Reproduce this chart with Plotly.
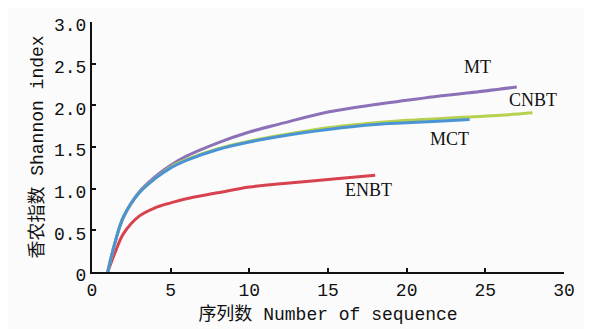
import plotly.graph_objects as go

# Data
mt_x = [1, 1.5, 2, 3, 4, 5, 6, 8, 10, 12, 15, 18, 20, 22, 24, 27]
mt_y = [0, 0.38, 0.66, 0.96, 1.14, 1.28, 1.39, 1.55, 1.68, 1.78, 1.92, 2.01, 2.06, 2.11, 2.15, 2.22]

cnbt_x = [1, 1.5, 2, 3, 4, 5, 6, 8, 10, 12, 15, 18, 20, 22, 24, 26, 28]
cnbt_y = [0, 0.38, 0.66, 0.95, 1.12, 1.26, 1.35, 1.48, 1.57, 1.64, 1.73, 1.79, 1.82, 1.84, 1.86, 1.88, 1.91]

mct_x = [1, 1.5, 2, 3, 4, 5, 6, 8, 10, 12, 15, 18, 20, 22, 24]
mct_y = [0, 0.38, 0.66, 0.95, 1.12, 1.25, 1.34, 1.47, 1.56, 1.63, 1.71, 1.77, 1.79, 1.81, 1.83]

enbt_x = [1, 1.5, 2, 3, 4, 5, 6, 8, 10, 12, 15, 18]
enbt_y = [0, 0.25, 0.46, 0.67, 0.77, 0.83, 0.88, 0.95, 1.02, 1.06, 1.11, 1.16]

series_names = ["MT", "CNBT", "MCT", "ENBT"]
label_x = [24.5, 28.05, 22.75, 17.55]
label_y = [2.46, 2.06, 1.6, 0.99]

x_ticks = [0, 5, 10, 15, 20, 25, 30]
x_ticktext = ["0", "5", "10", "15", "20", "25", "30"]
y_ticks = [0, 0.5, 1.0, 1.5, 2.0, 2.5, 3.0]
y_ticktext = ["0", "0.5", "1.0", "1.5", "2.0", "2.5", "3.0"]

colors = {"MT": "#8c71b8", "CNBT": "#b5d14e", "MCT": "#4a93d4", "ENBT": "#d8424f"}

fig = go.Figure()
for name, xs, ys in [("ENBT", enbt_x, enbt_y), ("MT", mt_x, mt_y),
                     ("CNBT", cnbt_x, cnbt_y), ("MCT", mct_x, mct_y)]:
    fig.add_trace(go.Scatter(x=xs, y=ys, mode="lines", name=name,
                             line=dict(color=colors[name], width=3, shape="spline", smoothing=1.0),
                             showlegend=False, hoverinfo="skip"))

for name, lx, ly in zip(series_names, label_x, label_y):
    fig.add_annotation(x=lx, y=ly, text=name, showarrow=False,
                       font=dict(family="Liberation Serif", size=18, color="#111"))

axis_font = dict(family="Liberation Mono, Noto Sans CJK SC", size=18, color="#111")
fig.update_layout(
    width=584, height=321,
    margin=dict(l=84, r=28, t=8, b=56),
    paper_bgcolor="#fbfbfb", plot_bgcolor="#fbfbfb",
    xaxis=dict(range=[0, 30], tickvals=x_ticks, ticktext=x_ticktext,
               ticks="inside", ticklen=4, tickwidth=1.5, tickcolor="#111",
               showline=True, linecolor="#111", linewidth=2, showgrid=False, zeroline=False,
               ticklabeloverflow="allow",
               tickfont=dict(family="Liberation Mono", size=18, color="#111"),
               title=dict(text="序列数 Number of sequence", font=axis_font, standoff=8)),
    yaxis=dict(range=[0, 3.0], tickvals=y_ticks, ticktext=y_ticktext,
               ticks="inside", ticklen=4, tickwidth=1.5, tickcolor="#111",
               showline=True, linecolor="#111", linewidth=2, showgrid=False, zeroline=False,
               ticklabelshift=3, ticklabeloverflow="allow",
               tickfont=dict(family="Liberation Mono", size=18, color="#111"),
               title=dict(text="香农指数 Shannon index", font=axis_font, standoff=6)),
)

fig.write_html("out.html")
